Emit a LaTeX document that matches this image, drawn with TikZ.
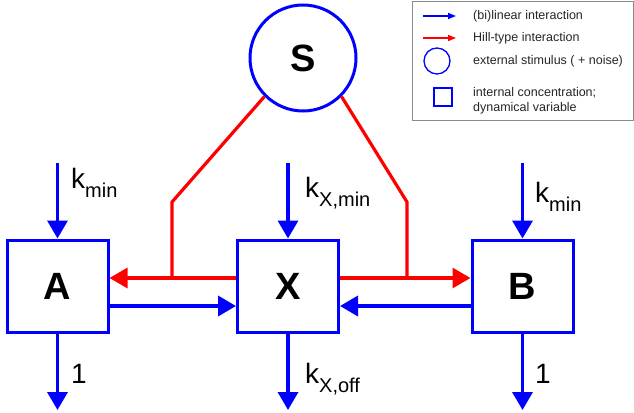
\documentclass[tikz,border=0pt]{standalone}
\usepackage{fontspec}
\setmainfont{Liberation Sans}
\usetikzlibrary{arrows.meta}
% rate constant: k with a lowered subscript
\newcommand\ratek[1]{{\fontsize{28}{30}\selectfont k}\raisebox{-9pt}{\fontsize{20}{22}\selectfont #1}}
\begin{document}
\begin{tikzpicture}[x=1pt,y=-1pt,
  lin/.style={draw=blue, line width=3.5pt, -{Triangle[length=18pt,width=20pt]}},
  hill/.style={draw=red, line width=3.2pt},
  hillarrow/.style={hill, -{Triangle[length=18pt,width=20pt]}},
  var/.style={draw=blue, line width=3pt, minimum width=101pt, minimum height=92pt,
    inner sep=0pt, font=\fontsize{38}{40}\selectfont\bfseries},
  stim/.style={circle, draw=blue, line width=3pt, minimum size=106pt, inner sep=0pt,
    font=\fontsize{38}{40}\selectfont\bfseries},
  rate/.style={anchor=base west, inner sep=0pt},
  legtext/.style={anchor=west, inner sep=0pt, text=black!85,
    font=\fontsize{12.5}{15}\selectfont, align=left},
]
\useasboundingbox (0,0) rectangle (634,412);

% variables and stimulus
\node[var] (A) at (57.5,286) {A};
\node[var] (X) at (288,286) {X};
\node[var] (B) at (522.5,286) {B};
\node[stim] (S) at (303,58) {S};

% inflow / outflow end points
\coordinate (Ain)  at (57.5,163);
\coordinate (Xin)  at (288,163);
\coordinate (Bin)  at (522.5,163);
\coordinate (Aout) at (57.5,410);
\coordinate (Xout) at (288,410);
\coordinate (Bout) at (522.5,410);

\draw[lin] (Ain) -- (A);
\draw[lin] (Xin) -- (X);
\draw[lin] (Bin) -- (B);
\draw[lin] (A) -- (Aout);
\draw[lin] (X) -- (Xout);
\draw[lin] (B) -- (Bout);

% rate labels
\node[rate] (kA)    at (71,188)  {\ratek{min}};
\node[rate] (kXmin) at (305,197) {\ratek{X,min}};
\node[rate] (kB)    at (535,202) {\ratek{min}};
\node[rate] (oA)    at (71,383)  {\fontsize{28}{30}\selectfont 1};
\node[rate] (kXoff) at (305,383) {\ratek{X,off}};
\node[rate] (oB)    at (535,383) {\fontsize{28}{30}\selectfont 1};

% bilinear couplings into X
\draw[lin] ([yshift=-20pt]A.east) -- ([yshift=-20pt]X.west);
\draw[lin] ([yshift=-20pt]B.west) -- ([yshift=-20pt]X.east);

% Hill-type regulation from X, gated by S
\draw[hillarrow] ([yshift=8pt]X.west) -- ([yshift=8pt]A.east);
\draw[hillarrow] ([yshift=8pt]X.east) -- ([yshift=8pt]B.west);
\coordinate (kinkL) at (172,202);
\coordinate (kinkR) at (407,202);
\coordinate (joinL) at (172,278);
\coordinate (joinR) at (407,278);
\draw[hill, line join=miter] (S.225) -- (kinkL) -- (joinL);
\draw[hill, line join=miter] (S.-45) -- (kinkR) -- (joinR);

% legend
\node[draw=black!45, line width=1pt, fill=white, minimum width=221pt,
  minimum height=118pt, inner sep=0pt] (legend) at (522.5,61) {};
\coordinate (l1a) at (423,16);
\coordinate (l1b) at (456,16);
\coordinate (l2a) at (423,38);
\coordinate (l2b) at (456,38);
\draw[draw=blue, line width=1.6pt, -{Triangle[length=8pt,width=6pt]}] (l1a) -- (l1b);
\draw[draw=red, line width=1.6pt, -{Triangle[length=8pt,width=6pt]}] (l2a) -- (l2b);
\node[circle, draw=blue, line width=1.3pt, minimum size=26pt, inner sep=0pt] (lcirc) at (437,61) {};
\node[draw=blue, line width=1.3pt, minimum size=18pt, inner sep=0pt] (lsq) at (443,97) {};
\node[legtext] (t1) at (473,16) {(bi)linear interaction};
\node[legtext] (t2) at (473,38) {Hill-type interaction};
\node[legtext] (t3) at (473,61) {external stimulus ( + noise)};
\node[legtext] (t4) at (473,101) {internal concentration;\\dynamical variable};
\end{tikzpicture}
\end{document}
